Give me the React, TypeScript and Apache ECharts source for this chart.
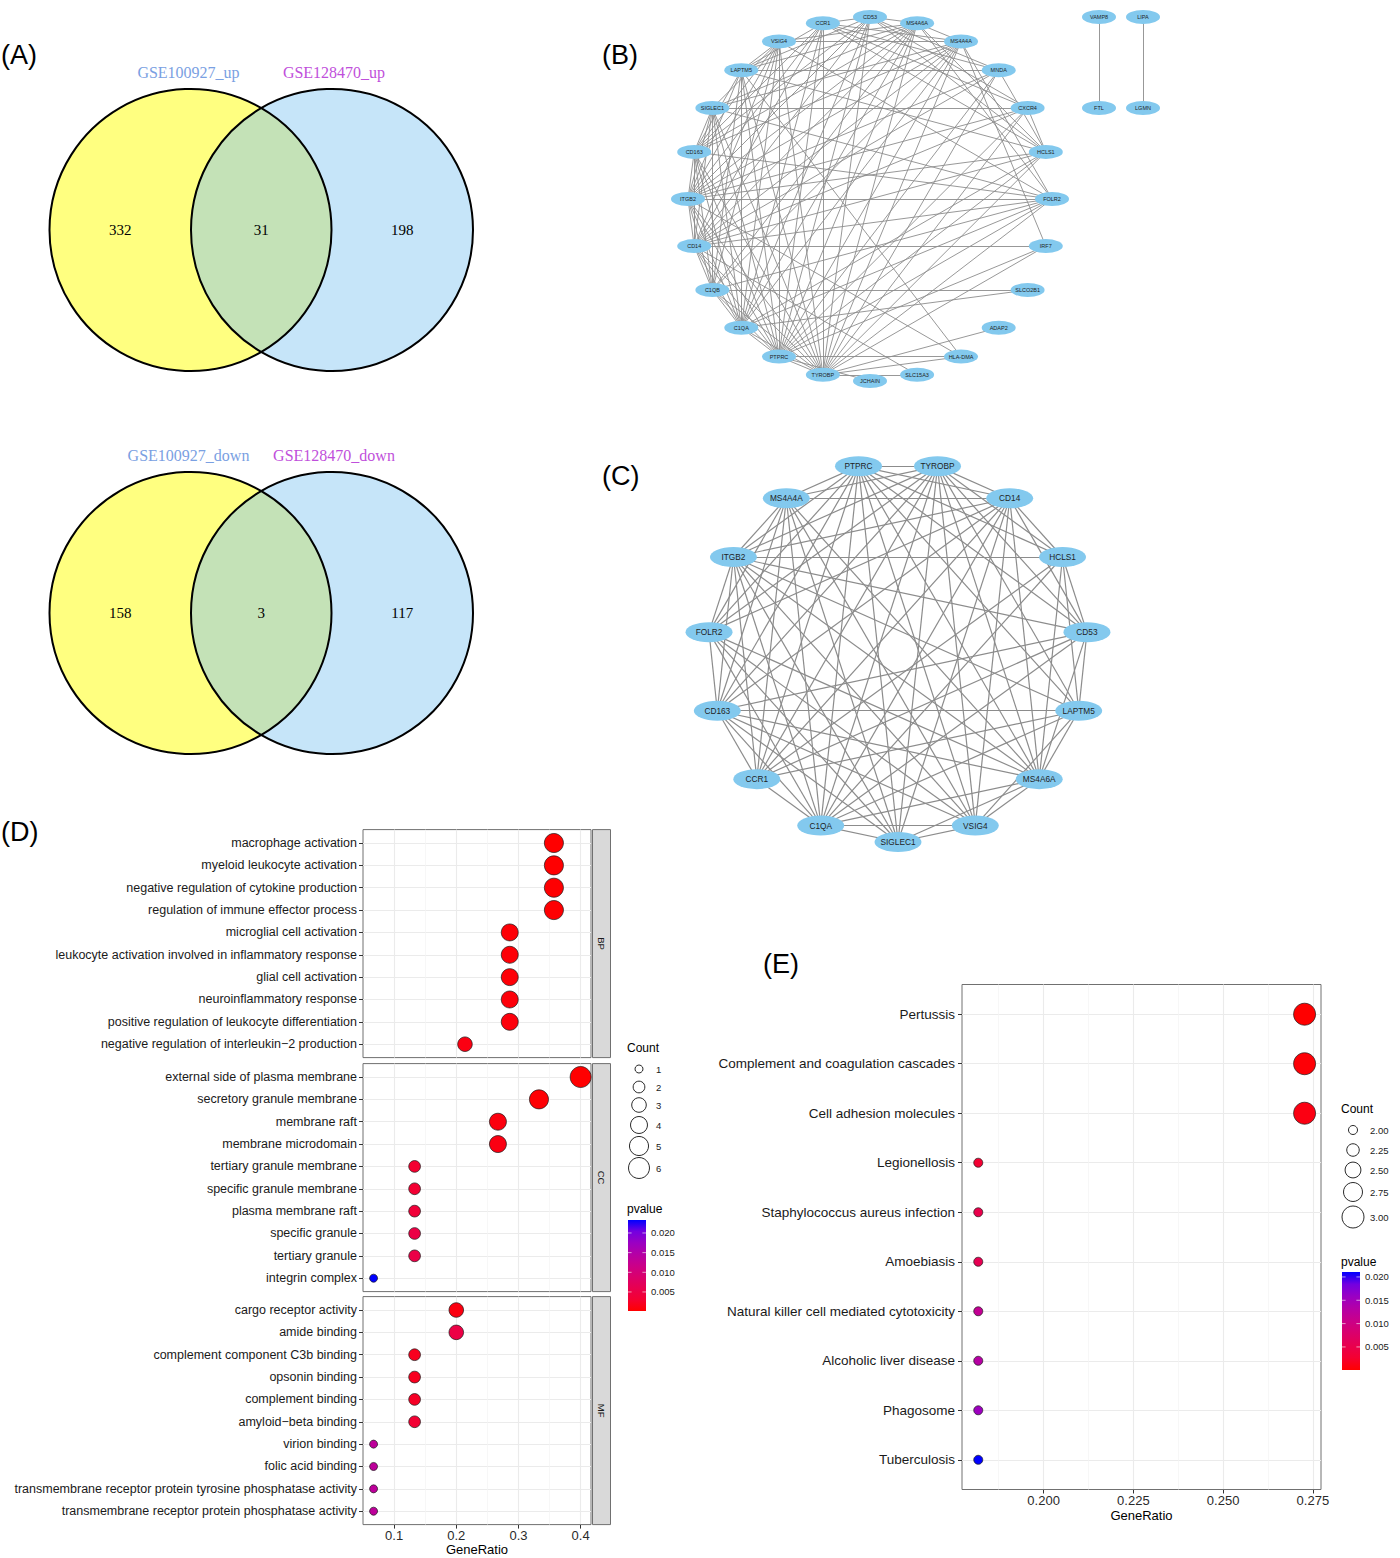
import React, { useEffect, useRef } from "react";
import * as echarts from "echarts";

// ---------------- data ----------------
const vennUpSets = ["GSE100927_up", "GSE128470_up"];
const vennUpCounts = [332, 31, 198];
const vennDownSets = ["GSE100927_down", "GSE128470_down"];
const vennDownCounts = [158, 3, 117];

// PPI network (B): ring order, clockwise from the top
const netBRing = ["CD53", "MS4A6A", "MS4A4A", "MNDA", "CXCR4", "HCLS1", "FOLR2", "IRF7", "SLCO2B1", "ADAP2", "HLA-DMA", "SLC15A3", "JCHAIN", "TYROBP", "PTPRC", "C1QA", "C1QB", "CD14", "ITGB2", "CD163", "SIGLEC1", "LAPTM5", "VSIG4", "CCR1"];
const netBPairs = [["VAMP8", "FTL"], ["LIPA", "LGMN"]];

// Hub network (C): ring order, clockwise from the top-right
const hubGenes = ["TYROBP", "CD14", "HCLS1", "CD53", "LAPTM5", "MS4A6A", "VSIG4", "SIGLEC1", "C1QA", "CCR1", "CD163", "FOLR2", "ITGB2", "MS4A4A", "PTPRC"];

const hubAdjacency: [string, string[]][] = [
  ["PTPRC", ["TYROBP", "CD14", "HCLS1", "CD53", "LAPTM5", "MS4A6A", "VSIG4", "SIGLEC1", "C1QA", "CCR1", "CD163", "FOLR2", "ITGB2", "MS4A4A"]],
  ["TYROBP", ["CD14", "HCLS1", "CD53", "LAPTM5", "MS4A6A", "VSIG4", "SIGLEC1", "C1QA", "CCR1", "CD163", "FOLR2", "ITGB2", "MS4A4A"]],
  ["CD14", ["HCLS1", "CD53", "MS4A6A", "VSIG4", "SIGLEC1", "C1QA", "CCR1", "CD163", "FOLR2", "ITGB2", "MS4A4A"]],
  ["HCLS1", ["CD53", "LAPTM5", "MS4A6A", "C1QA", "CCR1", "ITGB2"]],
  ["CD53", ["LAPTM5", "MS4A6A", "C1QA", "CCR1", "CD163", "ITGB2"]],
  ["LAPTM5", ["MS4A6A", "VSIG4", "C1QA", "CCR1", "CD163", "ITGB2"]],
  ["MS4A6A", ["VSIG4", "SIGLEC1", "C1QA", "CD163", "FOLR2", "ITGB2", "MS4A4A"]],
  ["VSIG4", ["SIGLEC1", "C1QA", "CD163", "FOLR2", "ITGB2", "MS4A4A"]],
  ["SIGLEC1", ["C1QA", "CD163", "FOLR2", "ITGB2", "MS4A4A"]],
  ["C1QA", ["CCR1", "CD163", "FOLR2", "ITGB2", "MS4A4A"]],
  ["CCR1", ["CD163", "ITGB2", "MS4A4A"]],
  ["CD163", ["FOLR2", "ITGB2", "MS4A4A"]],
  ["FOLR2", ["ITGB2", "MS4A4A"]],
  ["ITGB2", ["MS4A4A"]],
];

const extraAdjacency: [string, string[]][] = [
  ["C1QB", ["C1QA", "TYROBP", "CD14", "CD163", "VSIG4", "FOLR2", "SIGLEC1", "MS4A6A", "MS4A4A", "LAPTM5", "ITGB2", "PTPRC", "SLCO2B1"]],
  ["MNDA", ["PTPRC", "TYROBP", "ITGB2", "CD14", "CD53", "HCLS1", "LAPTM5", "CCR1"]],
  ["CXCR4", ["PTPRC", "CCR1", "ITGB2", "CD14", "HCLS1", "CD53", "TYROBP", "SIGLEC1"]],
  ["IRF7", ["CD14", "TYROBP", "PTPRC", "MS4A4A"]],
  ["SLCO2B1", ["C1QA"]],
  ["ADAP2", ["TYROBP"]],
  ["HLA-DMA", ["PTPRC", "TYROBP", "ITGB2", "LAPTM5"]],
  ["SLC15A3", ["TYROBP", "CD14"]],
  ["JCHAIN", ["PTPRC"]],
];

// GO enrichment (D)
const bpTerms = ["macrophage activation", "myeloid leukocyte activation", "negative regulation of cytokine production", "regulation of immune effector process", "microglial cell activation", "leukocyte activation involved in inflammatory response", "glial cell activation", "neuroinflammatory response", "positive regulation of leukocyte differentiation", "negative regulation of interleukin\u22122 production"];
const bpRatio = [0.357, 0.357, 0.357, 0.357, 0.286, 0.286, 0.286, 0.286, 0.286, 0.214];
const bpCount = [5, 5, 5, 5, 4, 4, 4, 4, 4, 3];
const bpP = [0.00016, 0.0002, 0.0003, 0.0003, 0.0005, 0.0006, 0.0006, 0.0007, 0.0008, 0.0012];

const ccTerms = ["external side of plasma membrane", "secretory granule membrane", "membrane raft", "membrane microdomain", "tertiary granule membrane", "specific granule membrane", "plasma membrane raft", "specific granule", "tertiary granule", "integrin complex"];
const ccRatio = [0.4, 0.333, 0.267, 0.267, 0.133, 0.133, 0.133, 0.133, 0.133, 0.067];
const ccCount = [6, 5, 4, 4, 2, 2, 2, 2, 2, 1];
const ccP = [0.0002, 0.0004, 0.001, 0.0012, 0.003, 0.0032, 0.0038, 0.005, 0.0052, 0.0233];

const mfTerms = ["cargo receptor activity", "amide binding", "complement component C3b binding", "opsonin binding", "complement binding", "amyloid\u2212beta binding", "virion binding", "folic acid binding", "transmembrane receptor protein tyrosine phosphatase activity", "transmembrane receptor protein phosphatase activity"];
const mfRatio = [0.2, 0.2, 0.133, 0.133, 0.133, 0.133, 0.067, 0.067, 0.067, 0.067];
const mfCount = [3, 3, 2, 2, 2, 2, 1, 1, 1, 1];
const mfP = [0.0011, 0.005, 0.002, 0.002, 0.0024, 0.0032, 0.0135, 0.0135, 0.0135, 0.0135];

const goRatioTicks = [0.1, 0.2, 0.3, 0.4];
const goRatioMinor = [0.15, 0.25, 0.35];
const goCountLegend = [1, 2, 3, 4, 5, 6];
const goPTicks = [0.005, 0.01, 0.015, 0.02];

// KEGG enrichment (E)
const keggTerms = ["Pertussis", "Complement and coagulation cascades", "Cell adhesion molecules", "Legionellosis", "Staphylococcus aureus infection", "Amoebiasis", "Natural killer cell mediated cytotoxicity", "Alcoholic liver disease", "Phagosome", "Tuberculosis"];
const keggRatio = [0.2727, 0.2727, 0.2727, 0.1818, 0.1818, 0.1818, 0.1818, 0.1818, 0.1818, 0.1818];
const keggCount = [3, 3, 3, 2, 2, 2, 2, 2, 2, 2];
const keggP = [0.00006, 0.0004, 0.001, 0.0028, 0.005, 0.0056, 0.0115, 0.013, 0.0155, 0.02106];

const keggRatioTicks = [0.2, 0.225, 0.25, 0.275];
const keggRatioMinor = [0.1875, 0.2125, 0.2375, 0.2625];
const keggCountLegend = [2, 2.25, 2.5, 2.75, 3];
const keggPTicks = [0.005, 0.01, 0.015, 0.02];

// ---------------- styles ----------------
const FONT = "'Liberation Sans', Arial, Helvetica, sans-serif";
const SERIF = "'Liberation Serif', 'Times New Roman', serif";
const PVAL_COLORS = ["#FF0000", "#F40031", "#E8004F", "#DA006C", "#CA0089", "#B500A5", "#9A00C3", "#7300E0", "#0000FF"];
const ELLIPSE = "path://M0,50 A50,50 0 1,1 100,50 A50,50 0 1,1 0,50 Z";
const BORDER = "#707070";

const LensShape = (echarts.graphic as any).extendShape({
  type: "lens",
  shape: { x1: 0, x2: 0, cy: 0, r: 0 },
  buildPath(ctx: any, s: any) {
    const d = s.x2 - s.x1;
    const h = Math.sqrt(s.r * s.r - (d * d) / 4);
    const a = Math.atan2(h, d / 2);
    const mx = (s.x1 + s.x2) / 2;
    ctx.moveTo(mx, s.cy - h);
    ctx.arc(s.x1, s.cy, s.r, -a, a, false);
    ctx.arc(s.x2, s.cy, s.r, Math.PI - a, Math.PI + a, false);
    ctx.closePath();
  },
});
(echarts.graphic as any).registerShape("lens", LensShape);

function txt(text: string, x: number, y: number, o: any = {}) {
  return {
    type: "text",
    x,
    y,
    rotation: o.rotation || 0,
    silent: true,
    style: {
      text,
      fill: o.fill || "#000",
      fontSize: o.fontSize || 12,
      fontFamily: o.fontFamily || FONT,
      align: o.align || "left",
      verticalAlign: o.verticalAlign || "middle",
    },
  };
}

function vennGraphic(cy: number, sets: string[], counts: number[]) {
  const x1 = 190.5, x2 = 332, r = 141;
  return [
    { type: "circle", silent: true, shape: { cx: x1, cy, r }, style: { fill: "#FFFF80" } },
    { type: "circle", silent: true, shape: { cx: x2, cy, r }, style: { fill: "#C6E5F9" } },
    { type: "lens", silent: true, shape: { x1, x2, cy, r }, style: { fill: "#C4E2B7" } },
    { type: "circle", silent: true, shape: { cx: x1, cy, r }, style: { fill: "none", stroke: "#000", lineWidth: 2 } },
    { type: "circle", silent: true, shape: { cx: x2, cy, r }, style: { fill: "none", stroke: "#000", lineWidth: 2 } },
    txt(sets[0], x1 - 2, cy - 158, { align: "center", fontSize: 16, fontFamily: SERIF, fill: "#7AA0E2" }),
    txt(sets[1], x2 + 2, cy - 158, { align: "center", fontSize: 16, fontFamily: SERIF, fill: "#BF4FDB" }),
    txt(String(counts[0]), (x1 - r + x2 - r) / 2, cy, { align: "center", fontSize: 15, fontFamily: SERIF }),
    txt(String(counts[1]), (x2 - r + x1 + r) / 2, cy, { align: "center", fontSize: 15, fontFamily: SERIF }),
    txt(String(counts[2]), (x1 + r + x2 + r) / 2, cy, { align: "center", fontSize: 15, fontFamily: SERIF }),
  ];
}

function ringLayout(names: string[], cx: number, cy: number, r: number, startDeg: number, stepDeg: number) {
  return names.map((name, i) => {
    const a = ((startDeg + stepDeg * i) * Math.PI) / 180;
    return { name, x: cx + r * Math.sin(a), y: cy - r * Math.cos(a) };
  });
}

function edgesFrom(adj: [string, string[]][]) {
  const out: [string, string][] = [];
  adj.forEach(([s, ts]) => ts.forEach((t) => out.push([s, t])));
  return out;
}

function graphSeries(nodes: any[], edges: [string, string][], w: number, h: number, fontSize: number, lw: number) {
  const xs = nodes.map((n) => n.x), ys = nodes.map((n) => n.y);
  const minX = Math.min(...xs), maxX = Math.max(...xs), minY = Math.min(...ys), maxY = Math.max(...ys);
  return {
    type: "graph",
    layout: "none",
    left: minX,
    top: minY,
    width: maxX - minX,
    height: maxY - minY,
    roam: false,
    silent: true,
    symbol: ELLIPSE,
    symbolSize: [w, h],
    itemStyle: { color: "#83C9EE" },
    label: { show: true, position: "inside", fontSize, color: "#1E1E1E", fontFamily: FONT },
    lineStyle: { color: "#8C8C8C", width: lw, opacity: 1, curveness: 0 },
    emphasis: { disabled: true },
    data: nodes,
    links: edges.map(([s, t]) => ({ source: s, target: t })),
  };
}

function yAxisFor(gridIndex: number, terms: string[], fontSize: number, margin: number) {
  const vals = terms.map((_, i) => i + 1);
  return {
    type: "value",
    gridIndex,
    inverse: true,
    min: 0.4,
    max: terms.length + 0.6,
    axisLine: { show: false },
    axisTick: { show: true, customValues: vals, length: 4, lineStyle: { color: "#333", width: 1 } },
    axisLabel: { customValues: vals, formatter: (v: number) => terms[Math.round(v) - 1] || "", fontSize, color: "#1A1A1A", fontFamily: FONT, margin },
    splitLine: { show: true, lineStyle: { color: "#EBEBEB", width: 1.1 } },
  };
}

function xAxisFor(gridIndex: number, min: number, max: number, ticks: number[], labels: boolean, digits: number, nameGap: number, margin: number) {
  return {
    type: "value",
    gridIndex,
    min,
    max,
    position: "bottom",
    axisLine: { show: false },
    axisTick: { show: labels, customValues: ticks, length: 4, lineStyle: { color: "#333", width: 1 } },
    axisLabel: { show: labels, customValues: ticks, formatter: (v: number) => v.toFixed(digits), fontSize: 13, color: "#2A2A2A", fontFamily: FONT, margin },
    splitLine: { show: true, lineStyle: { color: "#EBEBEB", width: 1.1 } },
    name: labels ? "GeneRatio" : "",
    nameLocation: "middle",
    nameGap,
    nameTextStyle: { fontSize: 13, color: "#000", fontFamily: FONT },
  };
}

function xMinorFor(gridIndex: number, min: number, max: number, ticks: number[]) {
  return {
    type: "value",
    gridIndex,
    min,
    max,
    position: "top",
    axisLine: { show: false },
    axisTick: { show: false, customValues: ticks },
    axisLabel: { show: false, customValues: ticks },
    splitLine: { show: true, lineStyle: { color: "#F3F3F3", width: 0.7 } },
  };
}

function legendGraphic(x: number, titleY: number, counts: number[], ys: number[], sizeFn: (c: number) => number, fmt: (c: number) => string, pTitleY: number, barTop: number, barH: number, pMin: number, pMax: number, pTicks: number[]) {
  const els: any[] = [];
  els.push(txt("Count", x, titleY, { fontSize: 12 }));
  counts.forEach((c, i) => {
    const d = sizeFn(c);
    els.push({ type: "circle", silent: true, shape: { cx: x + 12, cy: ys[i], r: d / 2 }, style: { fill: "#fff", stroke: "#111", lineWidth: 0.9 } });
    els.push(txt(fmt(c), x + 29, ys[i], { fontSize: 9.5, fill: "#1A1A1A" }));
  });
  els.push(txt("pvalue", x, pTitleY, { fontSize: 12 }));
  const n = PVAL_COLORS.length;
  const stops = PVAL_COLORS.map((c, i) => ({ offset: 1 - i / (n - 1), color: c })).reverse();
  const bw = 18;
  els.push({ type: "rect", silent: true, shape: { x: x + 1, y: barTop, width: bw, height: barH }, style: { fill: { type: "linear", x: 0, y: 0, x2: 0, y2: 1, colorStops: stops } } });
  pTicks.forEach((v) => {
    const y = barTop + barH - ((v - pMin) / (pMax - pMin)) * barH;
    els.push({ type: "line", silent: true, shape: { x1: x + 1, y1: y, x2: x + 4.6, y2: y }, style: { stroke: "rgba(255,255,255,0.75)", lineWidth: 0.8 } });
    els.push({ type: "line", silent: true, shape: { x1: x + 1 + bw - 3.6, y1: y, x2: x + 1 + bw, y2: y }, style: { stroke: "rgba(255,255,255,0.75)", lineWidth: 0.8 } });
    els.push(txt(v.toFixed(3), x + 24, y, { fontSize: 9.5, fill: "#1A1A1A" }));
  });
  return els;
}

function buildOption() {
  // networks
  const bNodes = [
    ...ringLayout(netBRing, 870, 199, 182, 0, 15),
    ...netBPairs.flatMap((pair, j) => pair.map((name, k) => ({ name, x: 1099 + 44 * j, y: 17 + 91 * k }))),
  ];
  const hubEdges = edgesFrom(hubAdjacency);
  const bEdges = [...hubEdges, ...edgesFrom(extraAdjacency), ...(netBPairs as [string, string][])];
  const cNodes = ringLayout(hubGenes, 898, 652, 190, 12, 24);

  // GO / KEGG
  const goMin = 0.05, goMax = 0.41667;
  const kgMin = 0.177273, kgMax = 0.277273;
  const allGoCounts = [...bpCount, ...ccCount, ...mfCount];
  const cMinD = Math.min(...allGoCounts), cMaxD = Math.max(...allGoCounts);
  const sizeD = (c: number) => 8 + ((Math.sqrt(c) - Math.sqrt(cMinD)) / (Math.sqrt(cMaxD) - Math.sqrt(cMinD))) * 13;
  const cMinE = Math.min(...keggCount), cMaxE = Math.max(...keggCount);
  const sizeE = (c: number) => 9 + ((Math.sqrt(c) - Math.sqrt(cMinE)) / (Math.sqrt(cMaxE) - Math.sqrt(cMinE))) * 13;
  const allGoP = [...bpP, ...ccP, ...mfP];
  const pMinD = Math.min(...allGoP), pMaxD = Math.max(...allGoP);
  const pMinE = Math.min(...keggP), pMaxE = Math.max(...keggP);

  const mk = (terms: string[], ratio: number[], count: number[], p: number[]) => terms.map((_, i) => [ratio[i], i + 1, p[i], count[i]]);

  const dotSeries = (xi: number, yi: number, data: any[], sizeFn: (c: number) => number) => ({
    type: "scatter",
    xAxisIndex: xi,
    yAxisIndex: yi,
    data,
    symbol: "circle",
    symbolSize: (v: number[]) => sizeFn(v[3]),
    itemStyle: { borderColor: "#1A1A1A", borderWidth: 0.7, opacity: 1 },
    emphasis: { disabled: true },
    silent: true,
    z: 3,
  });

  const gridH = 228;
  const dTops = [829.6, 1063.6, 1296.6];
  const dLeft = 363, dW = 228;

  const graphic: any[] = [
    txt("(A)", 1, 55, { fontSize: 27 }),
    txt("(B)", 602, 55, { fontSize: 27 }),
    txt("(C)", 602, 476, { fontSize: 27 }),
    txt("(D)", 1, 832, { fontSize: 27 }),
    txt("(E)", 763, 964, { fontSize: 27 }),
    ...vennGraphic(230, vennUpSets, vennUpCounts),
    ...vennGraphic(613, vennDownSets, vennDownCounts),
  ];
  ["BP", "CC", "MF"].forEach((s, i) => {
    graphic.push({ type: "rect", silent: true, shape: { x: dLeft + dW + 1.5, y: dTops[i], width: 18, height: gridH }, style: { fill: "#D9D9D9", stroke: BORDER, lineWidth: 1 } });
    graphic.push(txt(s, dLeft + dW + 10.5, dTops[i] + gridH / 2, { align: "center", fontSize: 9.5, rotation: -Math.PI / 2, fill: "#1A1A1A" }));
  });
  graphic.push(...legendGraphic(627, 1048, goCountLegend, [1069, 1087, 1105, 1125, 1146, 1168], sizeD, (c) => String(c), 1209, 1220, 91, pMinD, pMaxD, goPTicks));
  graphic.push(...legendGraphic(1341, 1109, keggCountLegend, [1130, 1150, 1170, 1192, 1217], sizeE, (c) => c.toFixed(2), 1262, 1272, 98, pMinE, pMaxE, keggPTicks));

  const gridStyle = { show: true, borderColor: BORDER, borderWidth: 1, backgroundColor: "transparent" };

  return {
    animation: false,
    backgroundColor: "#ffffff",
    graphic,
    grid: [
      { left: dLeft, top: dTops[0], width: dW, height: gridH, ...gridStyle },
      { left: dLeft, top: dTops[1], width: dW, height: gridH, ...gridStyle },
      { left: dLeft, top: dTops[2], width: dW, height: gridH, ...gridStyle },
      { left: 962, top: 984.5, width: 359, height: 505, ...gridStyle },
    ],
    xAxis: [
      xAxisFor(0, goMin, goMax, goRatioTicks, false, 1, 18, 4.5),
      xMinorFor(0, goMin, goMax, goRatioMinor),
      xAxisFor(1, goMin, goMax, goRatioTicks, false, 1, 18, 4.5),
      xMinorFor(1, goMin, goMax, goRatioMinor),
      xAxisFor(2, goMin, goMax, goRatioTicks, true, 1, 18, 4.5),
      xMinorFor(2, goMin, goMax, goRatioMinor),
      xAxisFor(3, kgMin, kgMax, keggRatioTicks, true, 3, 19.5, 4.7),
      xMinorFor(3, kgMin, kgMax, keggRatioMinor),
    ],
    yAxis: [
      yAxisFor(0, bpTerms, 12.5, 6),
      yAxisFor(1, ccTerms, 12.5, 6),
      yAxisFor(2, mfTerms, 12.5, 6),
      yAxisFor(3, keggTerms, 13.5, 7),
    ],
    visualMap: [
      { type: "continuous", show: false, seriesIndex: [2, 3, 4], dimension: 2, min: pMinD, max: pMaxD, inRange: { color: PVAL_COLORS } },
      { type: "continuous", show: false, seriesIndex: [5], dimension: 2, min: pMinE, max: pMaxE, inRange: { color: PVAL_COLORS } },
    ],
    series: [
      graphSeries(bNodes, bEdges, 34, 14, 5.5, 0.9),
      graphSeries(cNodes, hubEdges, 47, 20, 8.3, 1.2),
      dotSeries(0, 0, mk(bpTerms, bpRatio, bpCount, bpP), sizeD),
      dotSeries(2, 1, mk(ccTerms, ccRatio, ccCount, ccP), sizeD),
      dotSeries(4, 2, mk(mfTerms, mfRatio, mfCount, mfP), sizeD),
      dotSeries(6, 3, mk(keggTerms, keggRatio, keggCount, keggP), sizeE),
    ],
  };
}

export default function App() {
  const ref = useRef<HTMLDivElement>(null);
  useEffect(() => {
    if (!ref.current) return;
    const chart = echarts.init(ref.current, undefined, { renderer: "svg" });
    chart.setOption(buildOption() as any);
    return () => chart.dispose();
  }, []);
  return <div ref={ref} style={{ position: "absolute", left: 0, top: 0, width: 1400, height: 1558, background: "#fff" }} />;
}
